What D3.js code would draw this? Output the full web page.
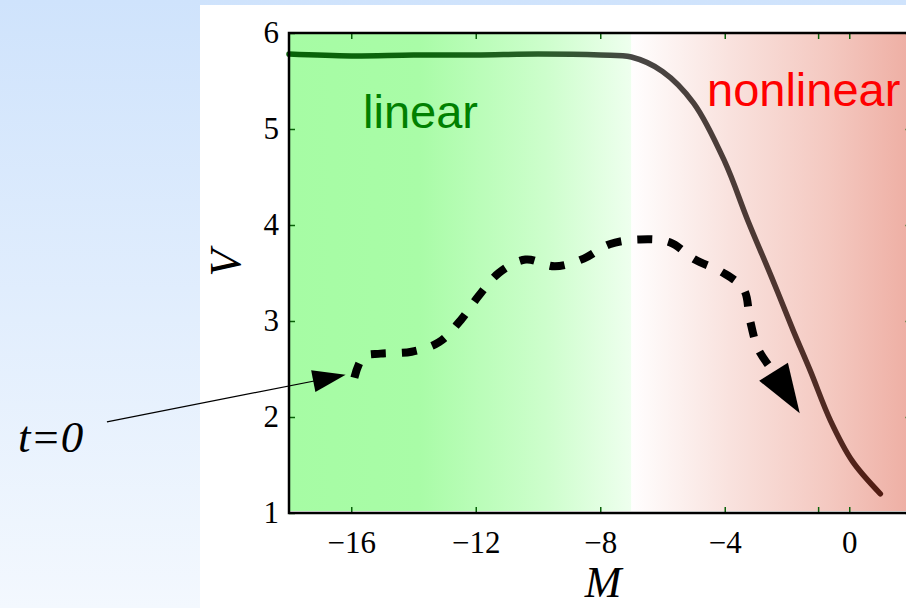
<!DOCTYPE html>
<html>
<head>
<meta charset="utf-8">
<script src="https://cdn.jsdelivr.net/npm/d3@7"></script>
<style>
  body { margin: 0; background: #fff; }
  svg { display: block; }
</style>
</head>
<body>
<div id="chart"></div>
<script>
// solid curve: V against M
const solidM = [-18, -16, -14, -12, -10, -8, -7, -6, -5, -4, -3.25, -2.5, -1.8, -1.25, -0.6, 0.1, 1.0];
const solidV = [5.78, 5.76, 5.77, 5.77, 5.78, 5.77, 5.75, 5.6, 5.27, 4.66, 4.04, 3.46, 2.9, 2.48, 1.96, 1.54, 1.2];

// dashed trajectory starting at t=0
const dashM = [-15.9, -15.6, -15.06, -14.06, -13.18, -12.48, -11.91, -11.26, -10.4, -9.46, -8.53, -7.7, -6.73, -5.77, -4.96, -4.09, -3.39, -3.19, -2.93, -2.5];
const dashV = [2.41, 2.63, 2.66, 2.68, 2.78, 3.01, 3.26, 3.5, 3.64, 3.57, 3.65, 3.8, 3.85, 3.82, 3.64, 3.51, 3.33, 3.01, 2.71, 2.5];
const arrowBase = [-2.43, 2.47];
const arrowTip = [-1.59, 2.04];

// t=0 pointer (from label to start of trajectory)
const pointerFrom = [-23.85, 1.95];
const pointerTo = [-16.18, 2.44];

const xTicks = [-16, -12, -8, -4, -1, 0];
const yTicks = [1, 2, 3, 4, 5, 6];
const regionSplit = -7;

const width = 906,
  height = 608;

const x = d3.scaleLinear().domain([-18, 2]).range([289, 911.5]);
const y = d3.scaleLinear().domain([1, 6]).range([513, 33]);

const svg = d3
  .select('#chart')
  .append('svg')
  .attr('width', width)
  .attr('height', height);

const defs = svg.append('defs');

const addGradient = (id, stops, x1, x2, y1, y2) => {
  const g = defs
    .append('linearGradient')
    .attr('id', id)
    .attr('gradientUnits', 'userSpaceOnUse')
    .attr('x1', x1)
    .attr('x2', x2)
    .attr('y1', y1)
    .attr('y2', y2);
  g.selectAll('stop')
    .data(stops)
    .enter()
    .append('stop')
    .attr('offset', (d) => d[0])
    .attr('stop-color', (d) => d[1]);
};

addGradient('bg', [[0, '#cfe3fc'], [1, '#f3f8fe']], 0, 0, 0, height);
addGradient(
  'green',
  [[0, '#a6fca4'], [0.38, '#a9fca7'], [0.75, '#cdfecc'], [1, '#eeffee']],
  x(-18), x(regionSplit), 0, 0
);
addGradient(
  'red',
  [[0, '#fffefe'], [0.35, '#f9e2de'], [0.7, '#f4c9c1'], [1, '#eeaea3']],
  x(regionSplit), x(2), 0, 0
);
addGradient(
  'ink',
  [[0, '#086208'], [0.23, '#0e640e'], [0.41, '#2a5e2a'], [0.55, '#474644'], [0.76, '#4d3833'], [0.95, '#521c12'], [1, '#521a10']],
  x(-18), x(2), 0, 0
);

// page background and white panel
svg.append('rect').attr('width', width).attr('height', height).attr('fill', 'url(#bg)');
svg.append('rect').attr('x', 200).attr('y', 5).attr('width', width - 200).attr('height', height - 5).attr('fill', '#fff');

// plot regions
svg
  .append('rect')
  .attr('x', x(-18))
  .attr('y', y(6))
  .attr('width', x(regionSplit) - x(-18))
  .attr('height', y(1) - y(6) - 2)
  .attr('fill', 'url(#green)');
svg
  .append('rect')
  .attr('x', x(regionSplit))
  .attr('y', y(6))
  .attr('width', x(2) - x(regionSplit))
  .attr('height', y(1) - y(6) - 2)
  .attr('fill', 'url(#red)');

// axes (ticks inward)
const styleAxis = (g) => {
  g.select('.domain').remove();
  g.selectAll('.tick line').attr('stroke', 'url(#ink)').attr('stroke-width', 1.5);
  g.selectAll('.tick text')
    .attr('font-family', '"Liberation Serif", "Times New Roman", serif')
    .attr('font-size', 31)
    .attr('fill', '#000');
};

const fmt = (d) => (d === -1 ? '' : d3.format('d')(d));

svg
  .append('g')
  .attr('transform', `translate(0, ${y(1)})`)
  .call(d3.axisBottom(x).tickValues(xTicks).tickSize(-6).tickPadding(18).tickFormat(fmt))
  .call(styleAxis);

svg
  .append('g')
  .attr('transform', `translate(0, ${y(6)})`)
  .call(d3.axisTop(x).tickValues(xTicks).tickSize(-6).tickFormat(''))
  .call(styleAxis);

svg
  .append('g')
  .attr('transform', `translate(${x(-18)}, 0)`)
  .call(d3.axisLeft(y).tickValues(yTicks).tickSize(-6).tickPadding(10).tickFormat(d3.format('d')))
  .call(styleAxis);

svg
  .append('g')
  .attr('transform', `translate(${x(2)}, 0)`)
  .call(d3.axisRight(y).tickValues(yTicks).tickSize(-6).tickFormat(''))
  .call(styleAxis);

// solid curve
const line = d3
  .line()
  .x((d) => x(d[0]))
  .y((d) => y(d[1]))
  .curve(d3.curveCatmullRom);

svg
  .append('path')
  .attr('d', line(d3.zip(solidM, solidV)))
  .attr('fill', 'none')
  .attr('stroke', 'url(#ink)')
  .attr('stroke-width', 5.5)
  .attr('stroke-linecap', 'round');

// dashed trajectory
svg
  .append('path')
  .attr('d', line(d3.zip(dashM, dashV)))
  .attr('fill', 'none')
  .attr('stroke', '#000')
  .attr('stroke-width', 8)
  .attr('stroke-dasharray', '15 16');

const arrowHead = (from, to, len, half) => {
  const x1 = x(from[0]),
    y1 = y(from[1]),
    x2 = x(to[0]),
    y2 = y(to[1]);
  const dx = x2 - x1,
    dy = y2 - y1,
    l = Math.hypot(dx, dy);
  const ux = dx / l,
    uy = dy / l;
  const bx = x2 - ux * len,
    by = y2 - uy * len;
  return [
    [x2, y2],
    [bx - uy * half, by + ux * half],
    [bx + uy * half, by - ux * half],
  ];
};

svg
  .append('polygon')
  .attr('points', arrowHead(arrowBase, arrowTip, 49, 17).join(' '))
  .attr('fill', '#000');

// t=0 pointer
svg
  .append('line')
  .attr('x1', x(pointerFrom[0]))
  .attr('y1', y(pointerFrom[1]))
  .attr('x2', x(pointerTo[0]) - 20)
  .attr('y2', y(pointerTo[1]) + 4)
  .attr('stroke', '#000')
  .attr('stroke-width', 1.2);

svg
  .append('polygon')
  .attr('points', arrowHead(pointerFrom, pointerTo, 33, 11).join(' '))
  .attr('fill', '#000');

// frame
svg
  .append('path')
  .attr('d', `M${x(2) + 5},${y(6)}H${x(-18)}V${y(1)}H${x(2) + 5}`)
  .attr('fill', 'none')
  .attr('stroke', '#000')
  .attr('stroke-width', 2.5);

// labels
const serif = '"Liberation Serif", "Times New Roman", serif';
const sans = '"Liberation Sans", Arial, Helvetica, sans-serif';

svg
  .append('text')
  .attr('x', 363)
  .attr('y', 128)
  .attr('font-family', sans)
  .attr('font-size', 47)
  .attr('fill', '#008000')
  .text('linear');

svg
  .append('text')
  .attr('x', 707)
  .attr('y', 106)
  .attr('font-family', sans)
  .attr('font-size', 47)
  .attr('fill', '#ff0000')
  .text('nonlinear');

svg
  .append('text')
  .attr('x', 18)
  .attr('y', 452)
  .attr('font-family', serif)
  .attr('font-style', 'italic')
  .attr('font-size', 45)
  .text('t=0');

svg
  .append('text')
  .attr('x', 603)
  .attr('y', 597)
  .attr('text-anchor', 'middle')
  .attr('font-family', serif)
  .attr('font-style', 'italic')
  .attr('font-size', 44)
  .text('M');

svg
  .append('text')
  .attr('transform', 'translate(240, 263) rotate(-90)')
  .attr('text-anchor', 'middle')
  .attr('font-family', serif)
  .attr('font-style', 'italic')
  .attr('font-size', 44)
  .text('V');
</script>
</body>
</html>
